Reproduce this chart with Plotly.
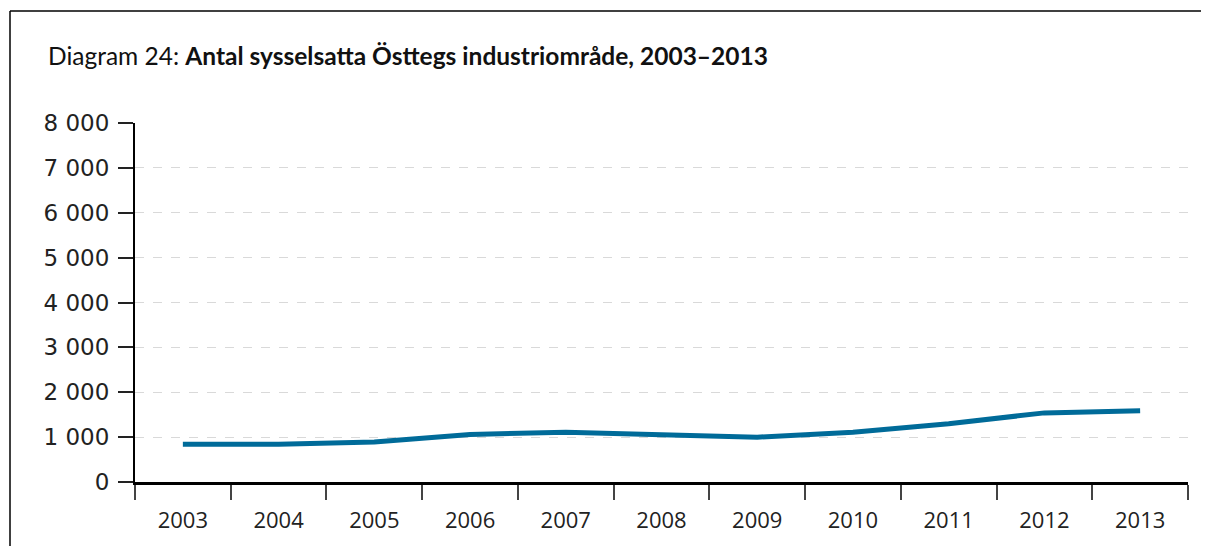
import plotly.graph_objects as go

years = ["2003", "2004", "2005", "2006", "2007", "2008", "2009", "2010", "2011", "2012", "2013"]
employed = [840, 840, 890, 1060, 1110, 1055, 1000, 1110, 1300, 1540, 1590]
ytick_vals = [0, 1000, 2000, 3000, 4000, 5000, 6000, 7000, 8000]
ytick_text = ["0", "1 000", "2 000", "3 000", "4 000", "5 000", "6 000", "7 000", "8 000"]

# page has an 8px body margin, so the figure is sized to fit the window exactly
W, H = 1193, 538
L, R, T, B = 127, 13, 115, 64
pw = W - L - R
ph = H - T - B

fig = go.Figure()
fig.add_trace(go.Scatter(
    x=years, y=employed, mode="lines",
    line=dict(color="#006b99", width=5),
    hoverinfo="x+y", showlegend=False,
))

title_font = "Lato, 'Open Sans', sans-serif"

fig.update_layout(
    width=W, height=H,
    margin=dict(l=L, r=R, t=T, b=B),
    paper_bgcolor="white", plot_bgcolor="white",
    font=dict(family="'Open Sans', sans-serif", color="#222222"),
    title=dict(
        text="Diagram 24: <b>Antal sysselsatta Östtegs industriområde, 2003–2013</b>",
        x=40 / W, xanchor="left", xref="container",
        y=1 - 48 / H, yanchor="middle", yref="container",
        font=dict(size=24.5, color="#111111", family=title_font),
    ),
    xaxis=dict(
        type="category", range=[-0.5, 10.5],
        tickson="boundaries", ticks="outside", ticklen=15, tickwidth=1.5, tickcolor="#444444",
        showline=True, linecolor="#000000", linewidth=2.5,
        showgrid=False, zeroline=False,
        ticklabelstandoff=17,
        tickfont=dict(size=22, color="#222222", family="'Open Sans', sans-serif"),
    ),
    yaxis=dict(
        range=[0, 8000], tickvals=ytick_vals, ticktext=ytick_text,
        ticks="outside", ticklen=15, tickwidth=1.5, tickcolor="#222222",
        showline=True, linecolor="#000000", linewidth=2,
        showgrid=True, gridcolor="#d9d9d9", griddash="dash", gridwidth=1,
        zeroline=False,
        ticklabelstandoff=4,
        tickfont=dict(size=23, color="#222222", family="'DejaVu Sans', sans-serif"),
    ),
)

# outer frame: only its top and left edges fall inside the page
fx0 = (2 - L) / pw
fy1 = (T + ph - 3) / ph
fig.add_shape(type="line", xref="paper", yref="paper",
              x0=fx0, x1=(W + 30 - L) / pw, y0=fy1, y1=fy1,
              line=dict(color="#000000", width=1.5), layer="below")
fig.add_shape(type="line", xref="paper", yref="paper",
              x0=fx0, x1=fx0, y0=-(B + 30) / ph, y1=fy1,
              line=dict(color="#000000", width=1.5), layer="below")

fig.write_html("out.html")
